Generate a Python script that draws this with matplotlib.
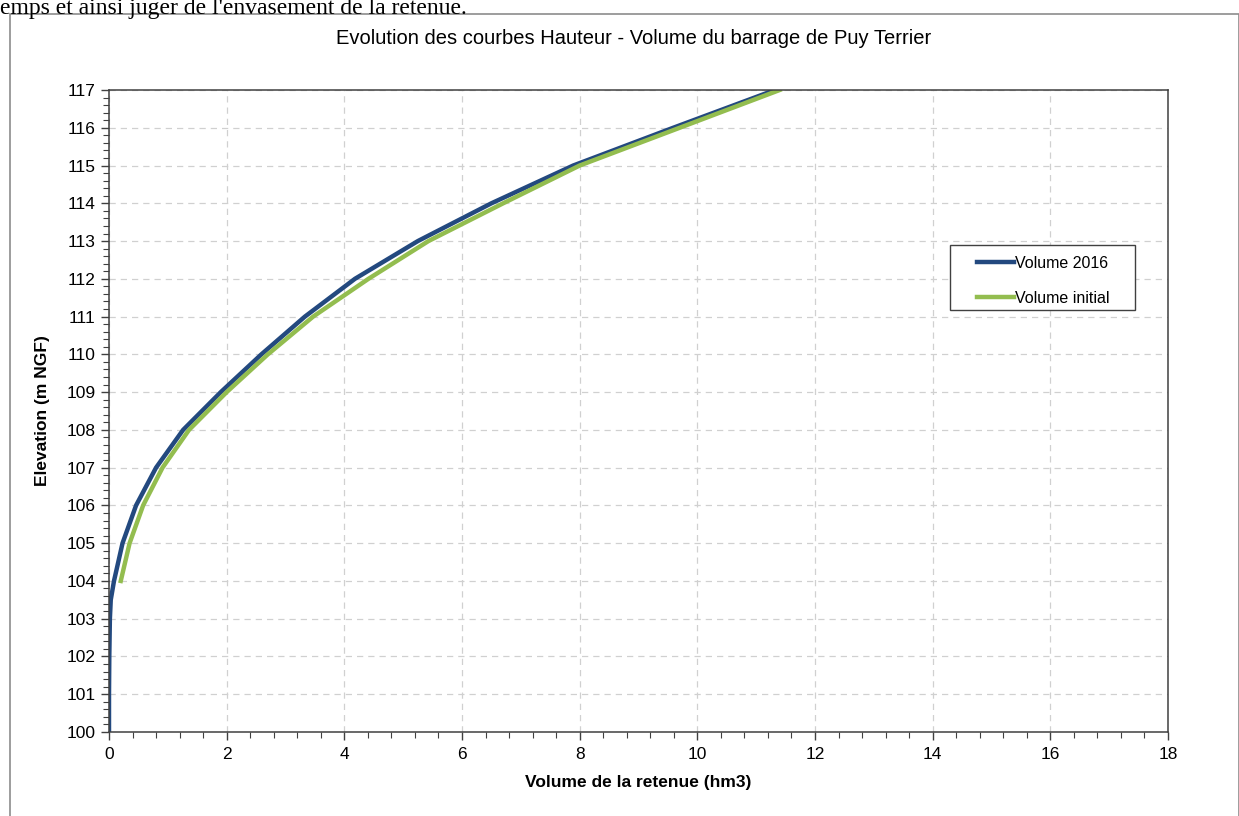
import matplotlib
matplotlib.use("Agg")
import matplotlib.pyplot as plt
from matplotlib.patches import Rectangle
from matplotlib.ticker import MultipleLocator

# Data
elev_2016 = [100, 101, 102, 103, 103.5, 104, 105, 106, 107, 108, 109, 110, 111, 112, 113, 114, 115, 116, 117]
vol_2016 = [0.0, 0.0, 0.005, 0.015, 0.03, 0.085, 0.23, 0.46, 0.80, 1.26, 1.90, 2.59, 3.33, 4.18, 5.25, 6.50, 7.89, 9.59, 11.32]

elev_init = [104, 105, 106, 107, 108, 109, 110, 111, 112, 113, 114, 115, 116, 117]
vol_init = [0.2, 0.35, 0.58, 0.91, 1.36, 2.0, 2.70, 3.47, 4.41, 5.43, 6.70, 8.0, 9.7, 11.4]

x_ticks = list(range(0, 19, 2))
y_ticks = list(range(100, 118))

plt.rcParams['font.family'] = ['Liberation Sans', 'DejaVu Sans']

W, H = 1239, 816
fig = plt.figure(figsize=(W / 100, H / 100), dpi=100)

# Outer chart frame
fig.patches.append(Rectangle((10 / W, -0.1), (W - 10) / W, 1.1 - 14 / H, transform=fig.transFigure,
                             fill=False, edgecolor='#8c8c8c', linewidth=1.2))
# Document text above the chart (cut off)
fig.text(0.0, 1 - 14 / H, "emps et ainsi juger de l'envasement de la retenue.",
         family=['Liberation Serif', 'DejaVu Serif'], fontsize=17, va='baseline', ha='left')

ax = fig.add_axes([109 / W, 1 - 732 / H, (1168 - 109) / W, (732 - 90) / H])

ax.plot(vol_2016, elev_2016, color='#23497f', linewidth=3.2, label='Volume 2016', solid_joinstyle='round')
ax.plot(vol_init, elev_init, color='#93bd4f', linewidth=3.2, label='Volume initial', solid_joinstyle='round')

ax.set_xlim(0, 18)
ax.set_ylim(100, 117)
ax.set_xticks(x_ticks)
ax.set_yticks(y_ticks)
ax.xaxis.set_minor_locator(MultipleLocator(0.4))
ax.yaxis.set_minor_locator(MultipleLocator(0.2))
ax.tick_params(axis='both', which='major', direction='out', length=6, width=1, color='#404040',
               labelsize=12.5, labelcolor='black')
ax.tick_params(axis='x', which='major', pad=5)
ax.tick_params(axis='both', which='minor', direction='out', length=4, width=0.8, color='#404040')

ax.grid(True, which='major', linestyle=(0, (5, 4)), color='#d0d0d0', linewidth=0.9)
ax.set_axisbelow(True)
for s in ax.spines.values():
    s.set_color('#404040')
    s.set_linewidth(1.1)

ax.set_xlabel('Volume de la retenue (hm3)', fontsize=12.5, fontweight='bold', labelpad=9)
ax.set_ylabel('Elevation (m NGF)', fontsize=12.5, fontweight='bold', labelpad=12)
fig.text(634 / W, 1 - 39 / H, 'Evolution des courbes Hauteur - Volume du barrage de Puy Terrier',
         ha='center', va='center', fontsize=14.5)

# Legend box
fig.patches.append(Rectangle((950 / W, 1 - 310 / H), (1135 - 950) / W, (310 - 245) / H,
                             transform=fig.transFigure, fill=True, facecolor='white',
                             edgecolor='#404040', linewidth=1.0, zorder=5))
leg = fig.legend(loc='upper left', bbox_to_anchor=(977 / W, 1 - 256 / H),
                 frameon=False, fontsize=11.5, handlelength=2.3, handletextpad=0.1,
                 borderpad=0, labelspacing=1.25, borderaxespad=0)
leg.set_zorder(6)

fig.savefig('out.png', dpi=100)
